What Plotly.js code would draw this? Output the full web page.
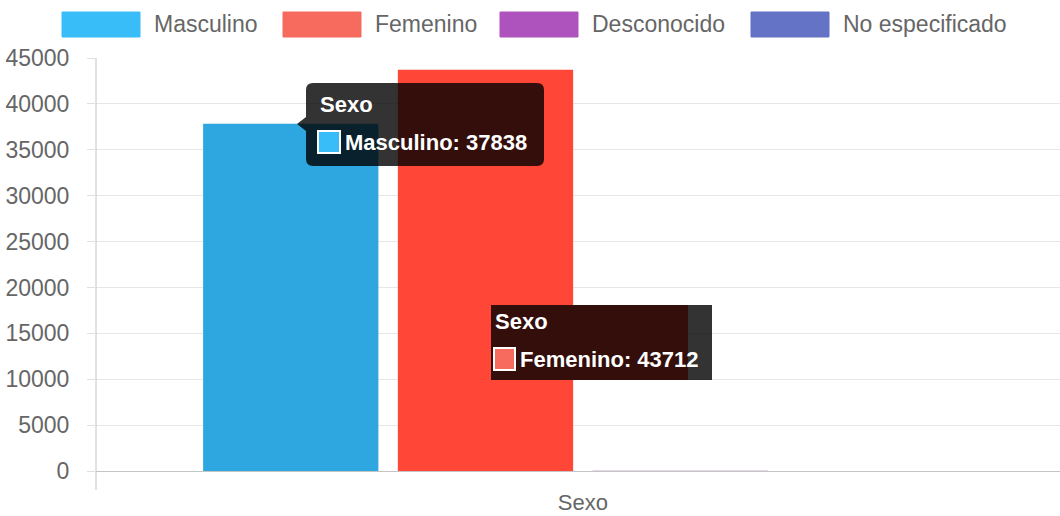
<!DOCTYPE html>
<html>
<head>
<meta charset="utf-8">
<script src="https://cdn.plot.ly/plotly-3.0.1.min.js"></script>
<style>
  html, body { margin: 0; padding: 0; background: #fff; overflow: hidden; }
  #chart { width: 1060px; height: 516px; }
</style>
</head>
<body>
<div id="chart"></div>
<script>
// ---- Data ----
const categories = ["Sexo"];
const seriesNames = ["Masculino", "Femenino", "Desconocido", "No especificado"];
const masculino = [37838];
const femenino = [43712];
const desconocido = [30];
const noEspecificado = [5];
const yTickValues = [0, 5000, 10000, 15000, 20000, 25000, 30000, 35000, 40000, 45000];

// ---- Styles ----
const barColors = ["#2ea7e0", "#ff4637", "#ae52be", "#6573c6"];
const legendColors = ["#38bdf8", "#f66b5e", "#ae52be", "#6573c6"];
const FONT = "Liberation Sans, Arial, Helvetica, sans-serif";
const TXT = "#666666";

const W = 1060, H = 516, ML = 96, MR = 0, MT = 58, MB = 45;
const PW = W - ML - MR, PH = H - MT - MB;
const px = x => (x - ML) / PW;
const py = y => (H - MB - y) / PH;

const seriesValues = [masculino, femenino, desconocido, noEspecificado];
const traces = seriesNames.map((name, i) => ({
  type: "bar",
  name: name,
  x: categories,
  y: seriesValues[i],
  marker: { color: barColors[i], line: { width: 0 } },
  hoverinfo: "none",
  showlegend: false
}));

const shapes = [];
const annotations = [];

// Category boundary / y-axis line extending below the x axis
shapes.push({ type: "line", xref: "paper", yref: "paper", x0: 0, x1: 0, y0: py(490), y1: 1,
  line: { color: "#c4c4c4", width: 1 }, layer: "above" });

// Custom legend (wide swatches like the original)
const legX = [62, 283, 500, 751];
seriesNames.forEach((name, i) => {
  shapes.push({ type: "rect", xref: "paper", yref: "paper",
    x0: px(legX[i]), x1: px(legX[i] + 78), y0: py(37), y1: py(12),
    fillcolor: legendColors[i], line: { color: legendColors[i], width: 1 } });
  annotations.push({ xref: "paper", yref: "paper", x: px(legX[i] + 90), y: py(24),
    xanchor: "left", yanchor: "middle", showarrow: false, text: name,
    font: { family: FONT, size: 23, color: TXT } });
});

// Tooltip 1 (rounded, with caret) for Masculino
(function () {
  const x0 = 306, x1 = 544, y0 = 83, y1 = 166, r = 7;
  const P = (x, y) => px(x) + "," + py(y);
  const path = "M" + P(x0 + r, y0) + " L" + P(x1 - r, y0) +
    " Q" + P(x1, y0) + " " + P(x1, y0 + r) +
    " L" + P(x1, y1 - r) + " Q" + P(x1, y1) + " " + P(x1 - r, y1) +
    " L" + P(x0 + r, y1) + " Q" + P(x0, y1) + " " + P(x0, y1 - r) +
    " L" + P(x0, 131) + " L" + P(297, 124) + " L" + P(x0, 117) +
    " L" + P(x0, y0 + r) + " Q" + P(x0, y0) + " " + P(x0 + r, y0) + " Z";
  shapes.push({ type: "path", xref: "paper", yref: "paper", path: path,
    fillcolor: "rgba(0,0,0,0.8)", line: { width: 0 }, layer: "above" });
  shapes.push({ type: "rect", xref: "paper", yref: "paper",
    x0: px(318), x1: px(340), y0: py(153), y1: py(131),
    fillcolor: legendColors[0], line: { color: "#ffffff", width: 2 }, layer: "above" });
  annotations.push({ xref: "paper", yref: "paper", x: px(318), y: py(104),
    xanchor: "left", yanchor: "middle", showarrow: false, text: "<b>" + categories[0] + "</b>",
    font: { family: FONT, size: 22, color: "#ffffff" } });
  annotations.push({ xref: "paper", yref: "paper", x: px(343), y: py(142),
    xanchor: "left", yanchor: "middle", showarrow: false,
    text: "<b>" + seriesNames[0] + ": " + masculino[0] + "</b>",
    font: { family: FONT, size: 22, color: "#ffffff" } });
})();

// Tooltip 2 (square) for Femenino
(function () {
  shapes.push({ type: "rect", xref: "paper", yref: "paper",
    x0: px(511), x1: px(688), y0: py(380), y1: py(305),
    fillcolor: barColors[1], line: { width: 0 }, layer: "above" });
  shapes.push({ type: "rect", xref: "paper", yref: "paper",
    x0: px(491), x1: px(712), y0: py(380), y1: py(305),
    fillcolor: "rgba(0,0,0,0.8)", line: { width: 0 }, layer: "above" });
  shapes.push({ type: "rect", xref: "paper", yref: "paper",
    x0: px(494), x1: px(515), y0: py(370), y1: py(348),
    fillcolor: legendColors[1], line: { color: "#ffffff", width: 2 }, layer: "above" });
  annotations.push({ xref: "paper", yref: "paper", x: px(493), y: py(321),
    xanchor: "left", yanchor: "middle", showarrow: false, text: "<b>" + categories[0] + "</b>",
    font: { family: FONT, size: 22, color: "#ffffff" } });
  annotations.push({ xref: "paper", yref: "paper", x: px(518), y: py(359),
    xanchor: "left", yanchor: "middle", showarrow: false,
    text: "<b>" + seriesNames[1] + ": " + femenino[0] + "</b>",
    font: { family: FONT, size: 22, color: "#ffffff" } });
})();

const layout = {
  width: W, height: H,
  margin: { l: ML, r: MR, t: MT, b: MB, pad: 0 },
  paper_bgcolor: "#ffffff", plot_bgcolor: "#ffffff",
  font: { family: FONT, size: 23, color: TXT },
  barmode: "group", bargap: 0.2, bargroupgap: 0.1,
  showlegend: false,
  xaxis: {
    type: "category",
    range: [-0.5, 0.49],
    showgrid: false, zeroline: false,
    showline: true, linecolor: "#c4c4c4", linewidth: 1,
    ticks: "outside", ticklen: 12, tickcolor: "rgba(0,0,0,0)",
    tickfont: { family: FONT, size: 22, color: TXT },
    fixedrange: true
  },
  yaxis: {
    range: [0, 45000],
    tickvals: yTickValues,
    ticktext: yTickValues.map(String),
    showgrid: true, gridcolor: "#e6e6e6", gridwidth: 1,
    zeroline: false, showline: false,
    ticks: "outside", ticklen: 8, tickcolor: "#e0e0e0",
    ticklabelstandoff: 13,
    tickfont: { family: FONT, size: 23, color: TXT },
    fixedrange: true
  },
  shapes: shapes,
  annotations: annotations
};

Plotly.newPlot("chart", traces, layout, { staticPlot: true, displayModeBar: false });
</script>
</body>
</html>
